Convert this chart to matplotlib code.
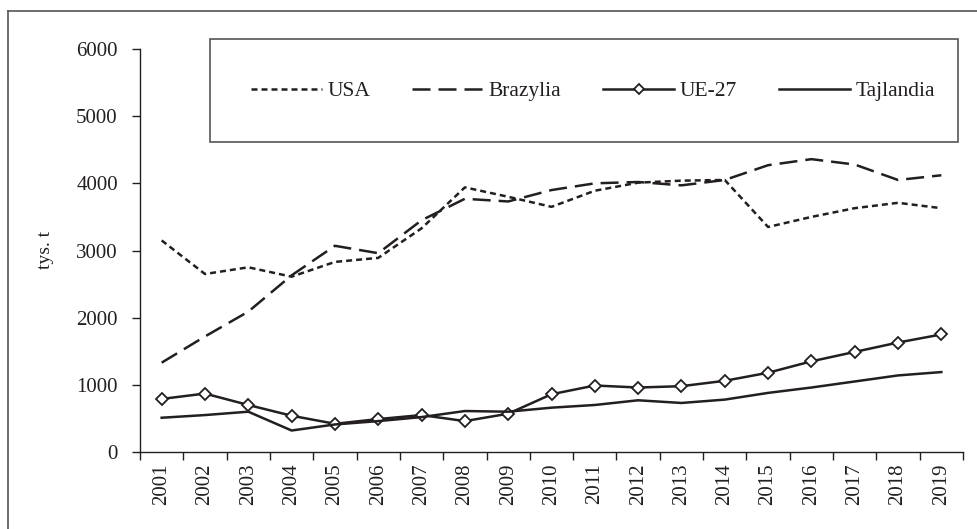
import matplotlib
matplotlib.use("Agg")
from matplotlib import pyplot as plt
from matplotlib.lines import Line2D
from matplotlib.patches import Rectangle
import numpy as np

plt.rcParams["font.family"] = ["Liberation Serif", "DejaVu Serif"]

# data (tys. t)
years = [str(y) for y in range(2001, 2020)]
usa = [3150, 2650, 2750, 2610, 2830, 2890, 3330, 3940, 3800, 3650,
       3890, 4010, 4040, 4050, 3350, 3500, 3630, 3710, 3630]
brazylia = [1330, 1720, 2090, 2630, 3070, 2960, 3450, 3770, 3730, 3900,
            4000, 4020, 3970, 4050, 4270, 4360, 4280, 4050, 4120]
ue27 = [790, 870, 700, 540, 420, 490, 550, 460, 570, 860,
        990, 960, 980, 1060, 1180, 1350, 1490, 1630, 1750]
tajlandia = [510, 550, 600, 320, 410, 460, 520, 610, 600, 660,
             700, 770, 730, 780, 880, 960, 1050, 1140, 1190]
labels = ["USA", "Brazylia", "UE-27", "Tajlandia"]

ink = "#231f20"
W, H = 977, 529

fig = plt.figure(figsize=(W / 100, H / 100), dpi=100)
ax = fig.add_axes([140 / W, 1 - 452 / H, (963 - 140) / W, (452 - 49) / H])

x = np.arange(len(years))
lw = 1.8
ax.plot(x, usa, color=ink, lw=lw, dashes=(2.4, 1.6), label=labels[0])
ax.plot(x, brazylia, color=ink, lw=lw, dashes=(7.2, 3.2), label=labels[1])
ax.plot(x, ue27, color=ink, lw=lw, marker="D", markersize=6.5,
        markerfacecolor="white", markeredgecolor=ink, markeredgewidth=1.3,
        label=labels[2])
ax.plot(x, tajlandia, color=ink, lw=lw, label=labels[3])

ax.set_xlim(-0.5, len(years) - 0.5)
ax.set_ylim(0, 6000)
ax.set_yticks(range(0, 6001, 1000))

# ticks between categories, labels centred on categories
ax.set_xticks(np.arange(-0.5, len(years)), minor=False)
ax.set_xticklabels([])
ax.set_xticks(x, minor=True)
ax.set_xticklabels(years, minor=True, rotation=90, fontsize=15, color=ink)
ax.tick_params(axis="x", which="major", direction="out", length=6, width=1, color=ink)
ax.tick_params(axis="x", which="minor", length=0, pad=8)
ax.tick_params(axis="y", direction="out", length=6, width=1, color=ink,
               labelsize=15, labelcolor=ink, pad=10)

for side in ["top", "right"]:
    ax.spines[side].set_visible(False)
for side in ["left", "bottom"]:
    ax.spines[side].set_color(ink)
    ax.spines[side].set_linewidth(1)

fig.text(45 / W, 1 - 250 / H, "tys. t", rotation=90, ha="center", va="center",
         fontsize=14, color=ink)

# legend box
fig.patches.append(Rectangle((210 / W, 1 - 142 / H), (958 - 210) / W, (142 - 39) / H,
                             transform=fig.transFigure, fill=False,
                             edgecolor="#555555", lw=1.2))
fig.legend(loc="center left", bbox_to_anchor=(251 / W, 1 - 91 / H), ncol=4,
           frameon=False, fontsize=15.5, handlelength=3.3, handletextpad=0.25,
           columnspacing=1.95, borderpad=0, borderaxespad=0, markerscale=0.8,
           labelcolor=ink)

# outer frame (top and left edges)
fig.add_artist(Line2D([8 / W, 1], [1 - 11 / H, 1 - 11 / H], color="#555555", lw=1.2))
fig.add_artist(Line2D([8 / W, 8 / W], [0, 1 - 11 / H], color="#555555", lw=1.2))

fig.savefig("out.png", dpi=100)
